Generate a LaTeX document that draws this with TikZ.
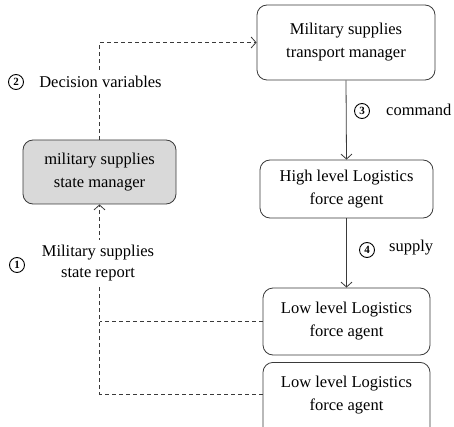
\documentclass[tikz,border=0pt]{standalone}
\usepackage{fontspec}
\setmainfont{Liberation Serif}
\usetikzlibrary{arrows.meta}
\definecolor{edgegray}{HTML}{3A3A3A}
\definecolor{boxfill}{HTML}{D9D9D9}
\begin{document}
\begin{tikzpicture}[x=1pt,y=-1pt,
  agentbox/.style={draw=edgegray,line width=0.8pt,rounded corners=10pt,
    inner sep=0pt,align=center,font=\fontsize{16.5}{23}\selectfont},
  boxtext/.style={inner sep=0pt,align=center,font=\fontsize{16.5}{23}\selectfont},
  flow/.style={draw=edgegray,line width=0.8pt,-{Straight Barb[length=5pt,width=11pt]}},
  dashflow/.style={draw=edgegray,line width=0.8pt,dash pattern=on 4pt off 3pt},
  nummark/.style={circle,draw=black,line width=0.9pt,inner sep=0pt,minimum size=15pt,
    font=\fontsize{11}{11}\selectfont\bfseries},
  lbl/.style={inner sep=0pt,align=center,font=\fontsize{16.5}{21}\selectfont},
  cover/.style={fill=white,inner sep=4pt,align=center,font=\fontsize{16.5}{21}\selectfont}]
\useasboundingbox (0,0) rectangle (454,427);
\begin{scope}
\clip (0,0) rectangle (454,427);
% managers and agents
\node[agentbox,minimum width=178pt,minimum height=75pt] (tm) at (346,42.5)
  {Military supplies\\transport manager};
\node[agentbox,fill=boxfill,minimum width=153pt,minimum height=64pt] (sm) at (99.5,172)
  {military supplies\\state manager};
\node[agentbox,minimum width=173pt,minimum height=58pt] (hl) at (346.5,189)
  {High level Logistics\\force agent};
\node[agentbox,minimum width=167pt,minimum height=67pt] (low1) at (346.5,321.5)
  {Low level Logistics\\force agent};
% the last agent runs past the lower edge
\node[agentbox,minimum width=167pt,minimum height=80pt,anchor=north] (low2) at (346.5,362) {};
\node[boxtext] (low2txt) at (346.5,395) {Low level Logistics\\force agent};
\end{scope}
% command chain
\draw[flow] (tm.south) -- (hl.north);
\draw[flow] (hl.south) -- (low1.north -| hl.south);
% decision variables to the transport manager
\draw[dashflow,-{Straight Barb[length=5pt,width=11pt]}] (sm.north) |- (tm.west);
% state reports from the low level agents
\draw[dashflow] (low1.west) -- (low1.west -| sm.south);
\draw[dashflow,-{Straight Barb[length=5pt,width=11pt]}] (low2.north west) ++(0,32) -| (sm.south);
% labels
\node[cover,anchor=west,inner sep=0pt,minimum height=22pt] (dv) at (35,82) {\ Decision variables};
\node[nummark] (n2) at (16,82) {2};
\node[cover,inner sep=5pt] (sr) at (98,263) {Military supplies\\state report};
\node[nummark] (n1) at (17,265) {1};
\node[nummark] (n3) at (362,111) {3};
\node[lbl,anchor=west] (cmd) at (386,110) {command};
\node[nummark] (n4) at (367,250) {4};
\node[lbl,anchor=west] (sup) at (389,248) {supply};
\end{tikzpicture}
\end{document}
